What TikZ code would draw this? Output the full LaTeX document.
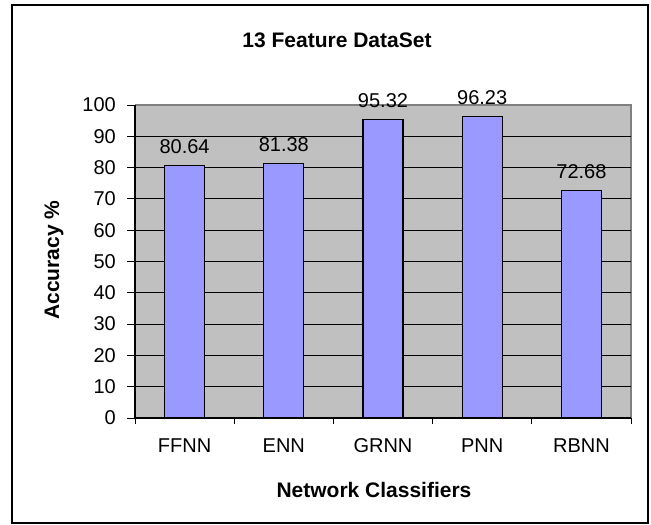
\documentclass[tikz,border=0pt]{standalone}
\usepackage{fontspec}
\setmainfont{Liberation Sans}
\definecolor{plotgray}{HTML}{C0C0C0}
\definecolor{bordergray}{HTML}{808080}
\definecolor{barblue}{HTML}{9999FF}
\begin{document}
\begin{tikzpicture}[x=1pt,y=-1pt,
  ticklbl/.style={font=\fontsize{20}{22}\selectfont, inner sep=0pt},
  vallbl/.style={font=\fontsize{20}{22}\selectfont, inner sep=0pt},
  titlelbl/.style={font=\fontsize{21}{23}\selectfont\bfseries, inner sep=0pt},
  barbox/.style={fill=barblue, draw=black, line width=1.2pt},
  gridline/.style={draw=black, line width=1pt}]
\useasboundingbox (0,0) rectangle (651,525);
\draw[line width=1.5pt] (12,5) rectangle (648,523);
\fill[plotgray] (135,105) rectangle (631,418);
\draw[bordergray, line width=1.2pt] (135,105) -- (631,105) -- (631,418);
% grid lines and y ticks
\foreach \v in {0,10,...,100} {
  \pgfmathsetmacro{\yy}{418-3.13*\v}
  \ifnum\v>0 \ifnum\v<100 \draw[gridline] (135,\yy) -- (631,\yy); \fi\fi
  \draw[line width=1pt] (127,\yy) -- (135,\yy);
  \node[ticklbl, anchor=east] (yl\v) at (116,\yy) {\v};
}
% bars
\foreach \val/\name [count=\i from 0] in {80.64/FFNN, 81.38/ENN, 95.32/GRNN, 96.23/PNN, 72.68/RBNN} {
  \pgfmathsetmacro{\cx}{135+99.2*(\i+0.5)}
  \pgfmathsetmacro{\top}{418-3.13*\val}
  \draw[barbox] (\cx-20,418) rectangle (\cx+20,\top);
  \node[vallbl] (v\i) at (\cx,\top-19) {\val};
  \node[ticklbl] (x\i) at (\cx,446) {\name};
}
% axes
\draw[line width=1.2pt] (135,105) -- (135,418) -- (631,418);
\foreach \i in {0,...,5} {
  \pgfmathsetmacro{\tx}{135+99.2*\i}
  \draw[line width=1pt] (\tx,418) -- (\tx,424);
}
\node[titlelbl] (title) at (337,40) {13 Feature DataSet};
\node[titlelbl, rotate=90] (ylab) at (54,260) {Accuracy \%};
\node[titlelbl] (xlab) at (374,490) {Network Classifiers};
\end{tikzpicture}
\end{document}
